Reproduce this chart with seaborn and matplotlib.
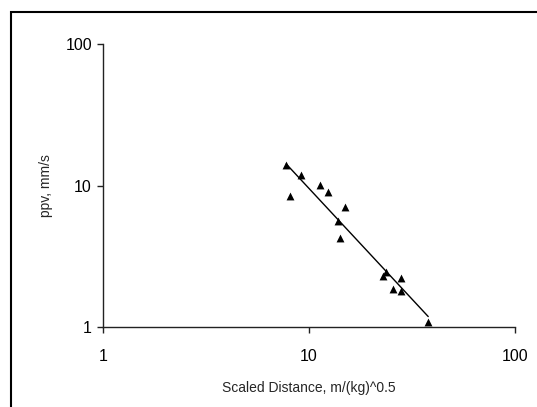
import numpy as np
import pandas as pd
import seaborn as sns
import matplotlib.pyplot as plt
from matplotlib.patches import Rectangle
from matplotlib.ticker import FixedLocator, NullLocator

# scaled distance, m/(kg)^0.5
scaled_distance = [7.75, 9.1, 8.1, 11.25, 12.4, 15.0, 13.9, 14.1,
                   23.6, 22.9, 27.9, 25.7, 27.9, 37.9]
# peak particle velocity, mm/s
ppv = [14.1, 11.9, 8.45, 10.1, 9.0, 7.0, 5.6, 4.25,
       2.45, 2.3, 2.2, 1.86, 1.78, 1.08]

# power trendline ppv = K * SD^-b
fit_k = 352.0
fit_b = 1.567

tick_values = [1, 10, 100]
tick_labels = ["1", "10", "100"]


def init_plt():
    sns.set_style("ticks")
    plt.rcParams.update({
        "font.family": ["Liberation Sans", "DejaVu Sans"],
        "axes.edgecolor": "#222222",
        "axes.linewidth": 1.0,
        "xtick.color": "#222222",
        "ytick.color": "#222222",
        "xtick.labelcolor": "black",
        "ytick.labelcolor": "black",
    })


def main():
    init_plt()
    df = pd.DataFrame({"sd": scaled_distance, "ppv": ppv})

    sd_line = np.geomspace(min(scaled_distance), max(scaled_distance), 60)
    df_fit = pd.DataFrame({"sd": sd_line, "ppv": fit_k * sd_line ** (-fit_b)})

    fig = plt.figure(figsize=(5.37, 4.07), dpi=100)
    ax = fig.add_axes([0.192, 0.197, 0.767, 0.694])

    sns.lineplot(data=df_fit, x="sd", y="ppv", color="black", linewidth=1.0, ax=ax)
    sns.scatterplot(data=df, x="sd", y="ppv", marker="^", color="black",
                    s=32, linewidth=0, ax=ax, zorder=3)

    ax.set_xscale("log")
    ax.set_yscale("log")
    ax.set_xlim(1, 100)
    ax.set_ylim(1, 100)
    for axis in (ax.xaxis, ax.yaxis):
        axis.set_major_locator(FixedLocator(tick_values))
        axis.set_minor_locator(NullLocator())
    ax.set_xticklabels(tick_labels, fontsize=11.5)
    ax.set_yticklabels(tick_labels, fontsize=11.5)
    ax.tick_params(length=4, width=1, pad=12)
    ax.tick_params(axis="y", pad=4)

    ax.set_xlabel("Scaled Distance, m/(kg)^0.5", fontsize=10, labelpad=12)
    ax.set_ylabel("ppv, mm/s", fontsize=10, labelpad=9)
    sns.despine(ax=ax)

    # frame around the chart area, cut off on the right and bottom
    fig.patches.append(Rectangle((10.5 / 537, -0.1), 1.2, 1.1 - 12.5 / 407,
                                 transform=fig.transFigure, fill=False,
                                 edgecolor="black", linewidth=1.5))

    fig.savefig("out.png", dpi=100)


if __name__ == '__main__':
    main()
